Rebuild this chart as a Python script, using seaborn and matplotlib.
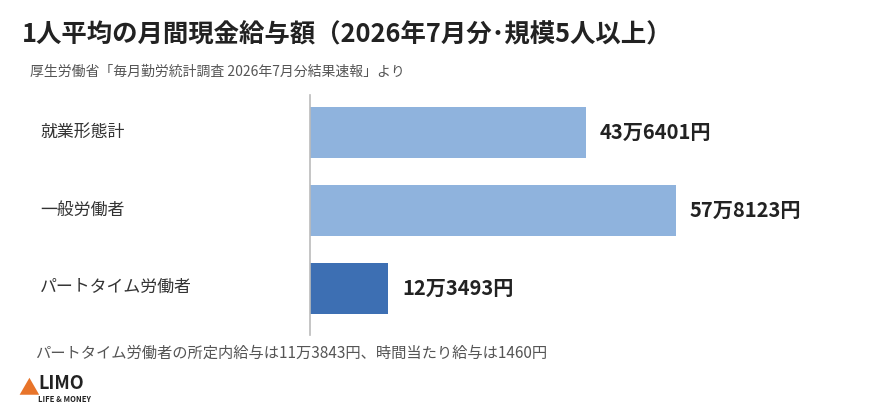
import matplotlib
matplotlib.use("Agg")
import matplotlib.pyplot as plt
import seaborn as sns
import pandas as pd

categories = ["就業形態計", "一般労働者", "パートタイム労働者"]
values = [436401, 578123, 123493]
labels = ["43万6401円", "57万8123円", "12万3493円"]
colors = ["#8fb3dd", "#8fb3dd", "#3d6fb3"]

sns.set_theme(style="white")
plt.rcParams['font.family'] = ['Noto Sans CJK JP', 'DejaVu Sans']

df = pd.DataFrame({"cat": categories, "val": values})
fig = plt.figure(figsize=(8.70, 4.19), dpi=100)
ax = fig.add_axes([310/870, 1-335/419, 550/870, 240/419])
sns.barplot(data=df, x="val", y="cat", hue="cat", palette=colors, width=0.66,
            orient="h", ax=ax, legend=False, saturation=1)
for p in ax.patches:
    p.set_edgecolor("none")
ax.set_xlim(0, 550/276*436401)
ax.set_ylim(2.6, -0.48)
for i, (v, l) in enumerate(zip(values, labels)):
    ax.text(v + 22000, i, l, va="center", ha="left", fontsize=14.5, fontweight="bold", color="#222222")
ax.set_xticks([]); ax.set_yticks([])
ax.set_xlabel(""); ax.set_ylabel("")
for s in ["top", "right", "bottom"]:
    ax.spines[s].set_visible(False)
ax.spines["left"].set_color("#bbbbbb")
ax.spines["left"].set_linewidth(1.2)

for i, c in enumerate(categories):
    y = 1 - (132 + i*77.5)/419
    fig.text(40/870, y, c, va="center", ha="left", fontsize=12.2, color="#333333")

fig.text(22/870, 1-35/419, "1人平均の月間現金給与額（2026年7月分･規模5人以上）", fontsize=18.3, fontweight="bold",
         color="#222222", va="center")
fig.text(30/870, 1-72/419, "厚生労働省「毎月勤労統計調査 2026年7月分結果速報」より", fontsize=10, color="#555555", va="center")
fig.text(35/870, 1-353/419, "パートタイム労働者の所定内給与は11万3843円、時間当たり給与は1460円", fontsize=11,
         color="#555555", va="center")
fig.text(38/870, 1-383/419, "LIMO", fontsize=13, fontweight="bold", color="#222222", va="center")
fig.text(38/870, 1-399/419, "LIFE & MONEY", fontsize=5.5, fontweight="bold", color="#222222", va="center")
fig.text(18/870, 1-388/419, "▲", fontsize=15, color="#e8742a", va="center")
fig.savefig("out.png", dpi=100)
